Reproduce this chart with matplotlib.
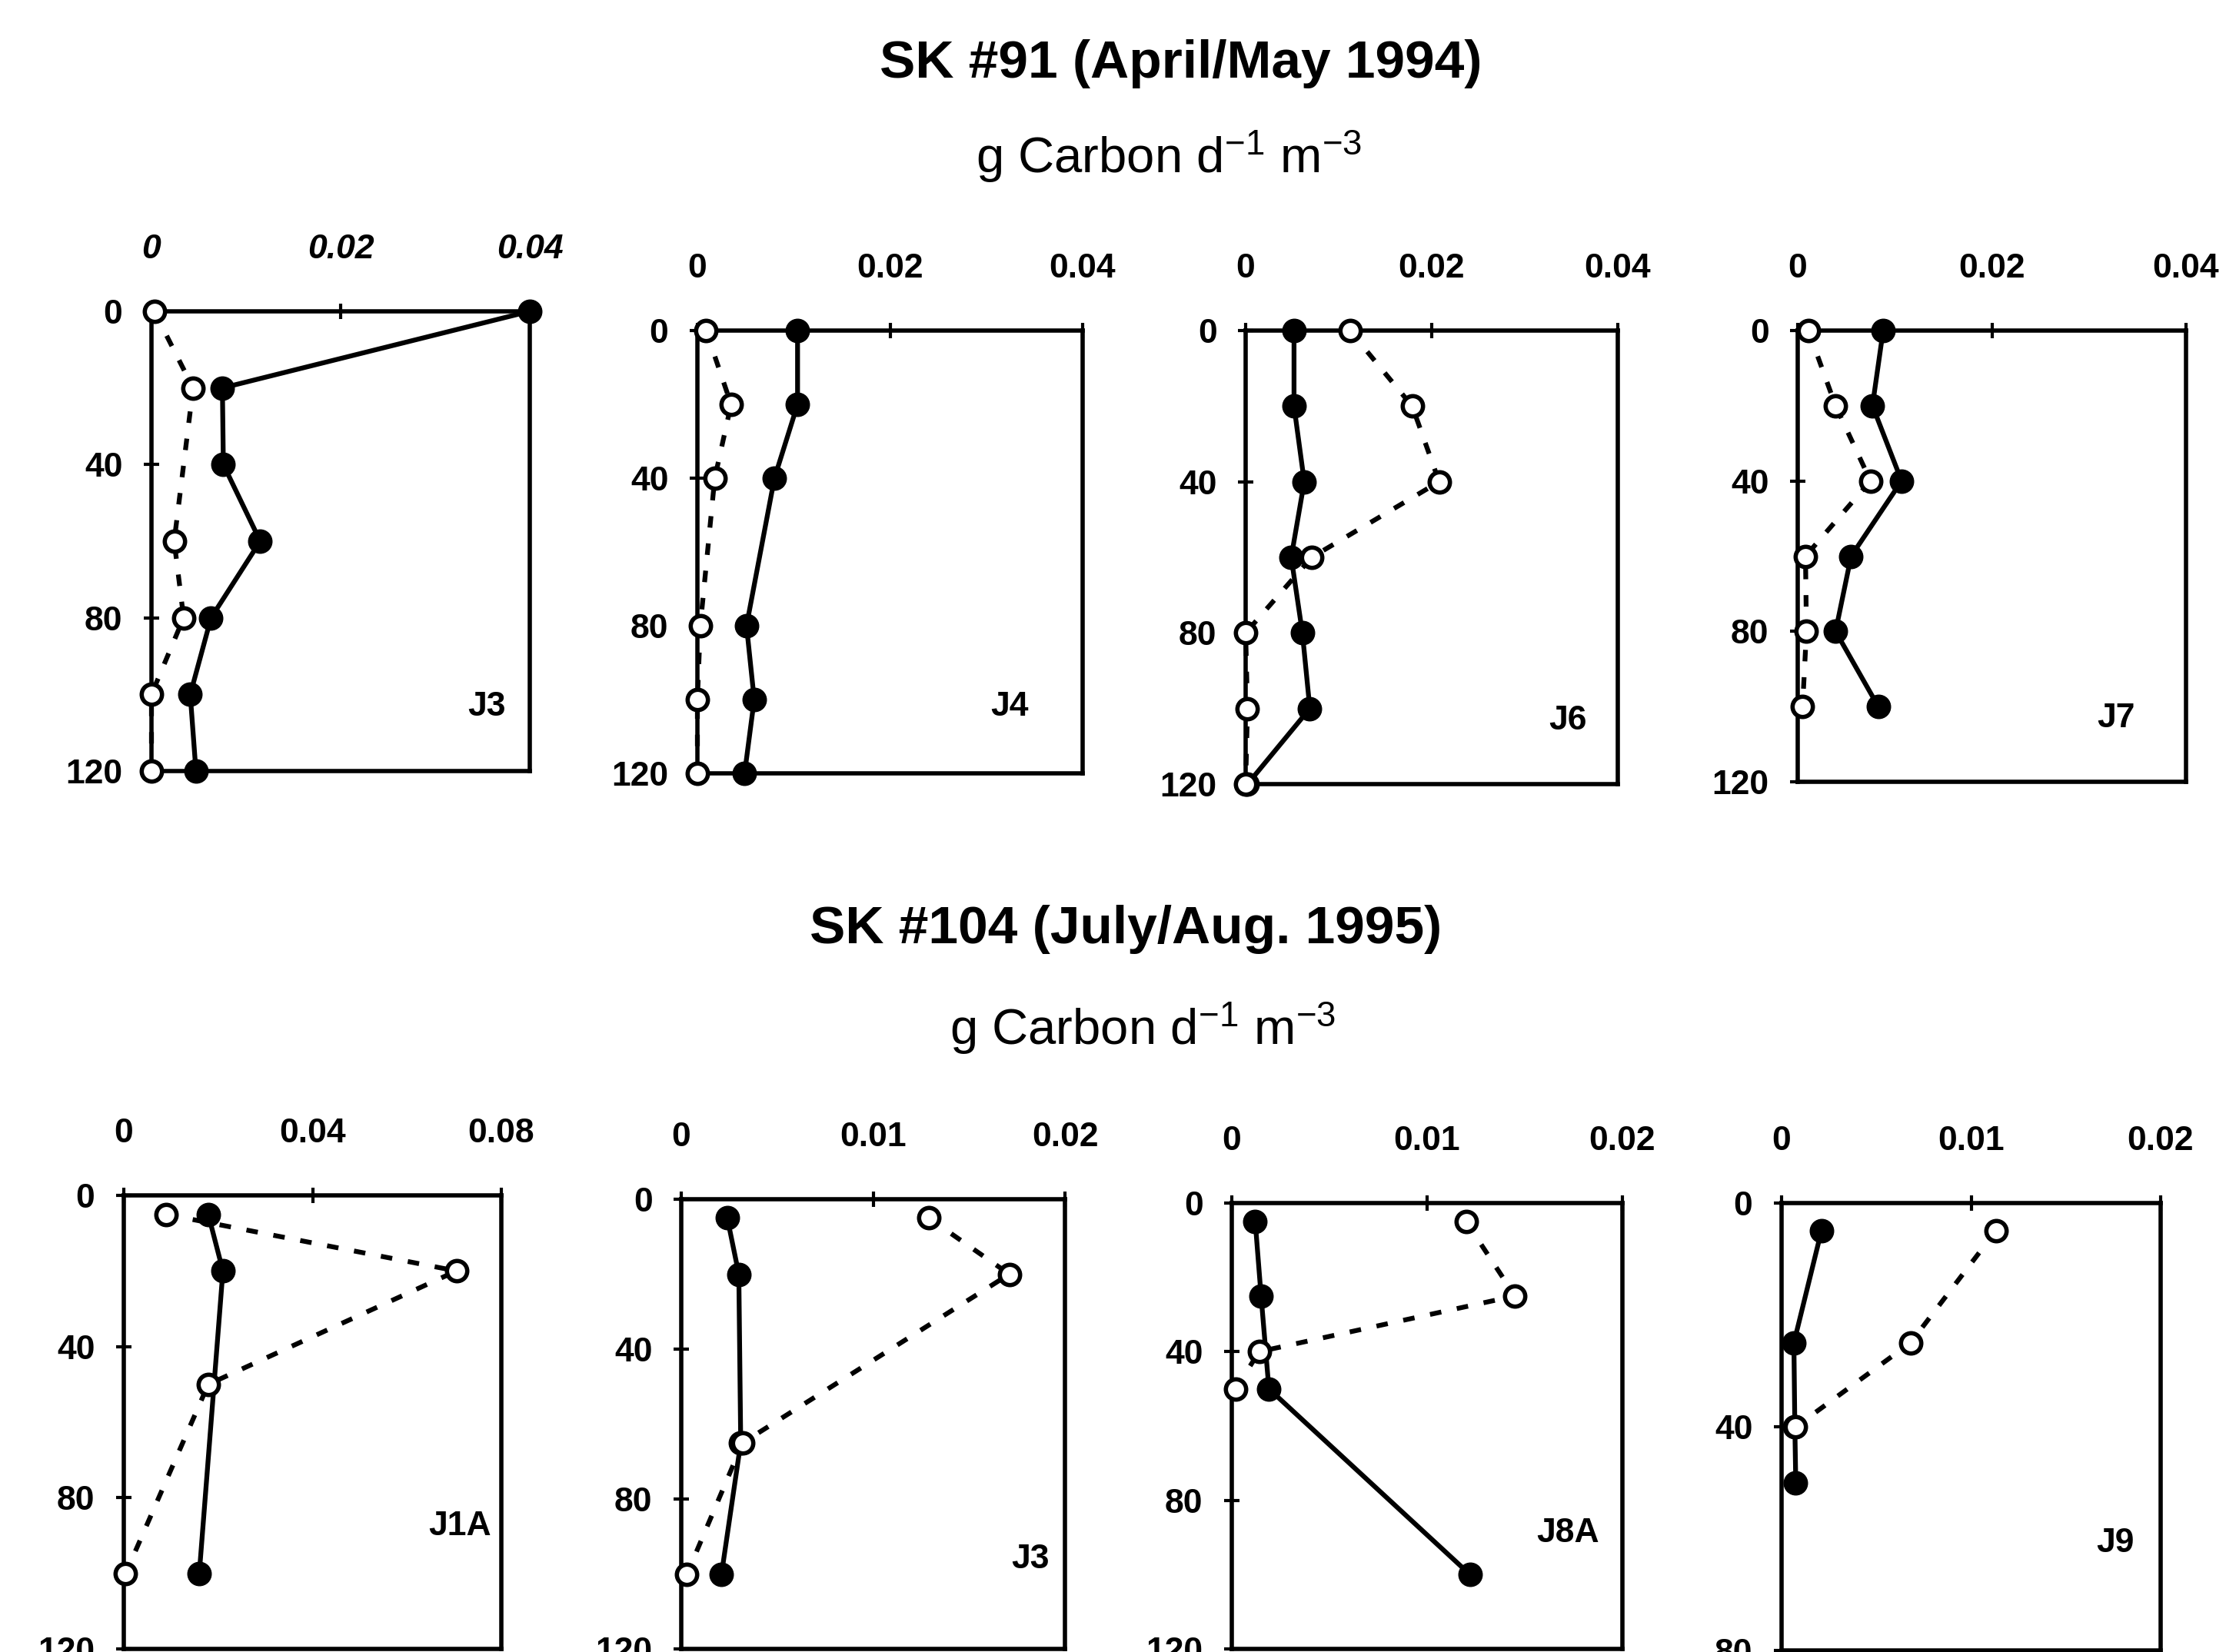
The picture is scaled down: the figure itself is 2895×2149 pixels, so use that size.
import matplotlib
matplotlib.use('Agg')
import matplotlib.pyplot as plt

plt.rcParams['font.family'] = ['Liberation Sans', 'DejaVu Sans']
plt.rcParams['mathtext.fontset'] = 'custom'
plt.rcParams['mathtext.rm'] = 'Liberation Sans'
plt.rcParams['mathtext.default'] = 'regular'

# ---- SK #91 (April/May 1994) ----
j3_91_depth = [0, 20, 40, 60, 80, 100, 120]
j3_91_filled = [0.040, 0.0075, 0.0076, 0.0115, 0.0063, 0.0041, 0.0047]
j3_91_open_depth = [0, 20, 60, 80, 100, 120]
j3_91_open = [0.0003, 0.0044, 0.0024, 0.0034, 0.0, 0.0]

j4_91_depth = [0, 20, 40, 80, 100, 120]
j4_91_filled = [0.0104, 0.0104, 0.0080, 0.0051, 0.0059, 0.0049]
j4_91_open = [0.0009, 0.0035, 0.0018, 0.0003, 0.0, 0.0]

j6_91_depth = [0, 20, 40, 60, 80, 100, 120]
j6_91_filled = [0.0052, 0.0052, 0.0063, 0.0049, 0.0061, 0.0069, 0.0002]
j6_91_open = [0.0112, 0.0179, 0.0208, 0.0071, 0.0, 0.0002, 0.0]

j7_91_depth = [0, 20, 40, 60, 80, 100]
j7_91_filled = [0.0088, 0.0077, 0.0107, 0.0055, 0.0039, 0.0083]
j7_91_open = [0.0011, 0.0039, 0.0075, 0.0008, 0.0009, 0.0005]

# ---- SK #104 (July/Aug. 1995) ----
j1a_104_filled_depth = [5, 20, 100]
j1a_104_filled = [0.0179, 0.0210, 0.0160]
j1a_104_open_depth = [5, 20, 50, 100]
j1a_104_open = [0.0089, 0.0705, 0.0179, 0.0004]

j3_104_depth = [5, 20, 65, 100]
j3_104_filled = [0.0024, 0.0030, 0.0031, 0.0021]
j3_104_open = [0.0129, 0.0171, 0.0032, 0.0003]

j8a_104_filled_depth = [5, 25, 50, 100]
j8a_104_filled = [0.0012, 0.0015, 0.0019, 0.0122]
j8a_104_open_depth = [5, 25, 40, 50]
j8a_104_open = [0.0120, 0.0145, 0.0014, 0.0002]

j9_104_filled_depth = [5, 25, 40, 50]
j9_104_filled = [0.0021, 0.00065, 0.0007, 0.00075]
j9_104_open_depth = [5, 25, 40]
j9_104_open = [0.0113, 0.0068, 0.00075]

# axis ticks
x_ticks_004 = [0, 0.02, 0.04]
x_labels_004 = ['0', '0.02', '0.04']
x_ticks_008 = [0, 0.04, 0.08]
x_labels_008 = ['0', '0.04', '0.08']
x_ticks_002 = [0, 0.01, 0.02]
x_labels_002 = ['0', '0.01', '0.02']
depth_ticks_120 = [0, 40, 80, 120]
depth_ticks_80 = [0, 40, 80]

W, H = 2895, 2149
fig = plt.figure(figsize=(W / 100, H / 100), dpi=100)


def panel(box, name, label_pos, xticks, xlabels, yticks,
          fd, fv, od, ov, italic=False):
    L, T, R, B = box
    ax = fig.add_axes([L / W, 1 - B / H, (R - L) / W, (B - T) / H])
    ax.plot(fv, fd, color='k', lw=4.5, marker='o', ms=22,
            mfc='k', mec='k', clip_on=False, zorder=3)
    ax.plot(ov, od, color='k', lw=4.5, ls=(0, (2.4, 3.3)), marker='o', ms=19,
            mfc='white', mec='k', mew=4, clip_on=False, zorder=4)
    ax.set_xlim(xticks[0], xticks[-1])
    ax.set_ylim(yticks[-1], yticks[0])
    ax.xaxis.tick_top()
    ax.set_xticks(xticks, xlabels, fontsize=32, fontweight='bold',
                  fontstyle='italic' if italic else 'normal')
    ax.set_yticks(yticks, [str(v) for v in yticks], fontsize=32,
                  fontweight='bold')
    ax.tick_params(axis='x', direction='inout', length=14, width=3, pad=36)
    ax.tick_params(axis='y', direction='inout', length=14, width=3, pad=20)
    for s in ax.spines.values():
        s.set_linewidth(4)
    ax.text(label_pos[0], label_pos[1], name, transform=ax.transAxes,
            ha='center', va='center', fontsize=32, fontweight='bold')
    return ax


# top row
panel((197, 405, 689, 1003), 'J3', (0.886, 0.14), x_ticks_004, x_labels_004,
      depth_ticks_120, j3_91_depth, j3_91_filled, j3_91_open_depth, j3_91_open,
      italic=True)
panel((907, 430, 1408, 1006), 'J4', (0.81, 0.15), x_ticks_004, x_labels_004,
      depth_ticks_120, j4_91_depth, j4_91_filled, j4_91_depth, j4_91_open)
panel((1620, 430, 2104, 1020), 'J6', (0.865, 0.14), x_ticks_004, x_labels_004,
      depth_ticks_120, j6_91_depth, j6_91_filled, j6_91_depth, j6_91_open)
panel((2338, 430, 2843, 1017), 'J7', (0.82, 0.14), x_ticks_004, x_labels_004,
      depth_ticks_120, j7_91_depth, j7_91_filled, j7_91_depth, j7_91_open)

# bottom row
panel((161, 1555, 652, 2145), 'J1A', (0.89, 0.27), x_ticks_008, x_labels_008,
      depth_ticks_120, j1a_104_filled_depth, j1a_104_filled,
      j1a_104_open_depth, j1a_104_open)
panel((886, 1560, 1385, 2145), 'J3', (0.91, 0.2), x_ticks_002, x_labels_002,
      depth_ticks_120, j3_104_depth, j3_104_filled, j3_104_depth, j3_104_open)
panel((1602, 1565, 2110, 2145), 'J8A', (0.86, 0.26), x_ticks_002, x_labels_002,
      depth_ticks_120, j8a_104_filled_depth, j8a_104_filled,
      j8a_104_open_depth, j8a_104_open)
panel((2317, 1565, 2810, 2147), 'J9', (0.88, 0.24), x_ticks_002, x_labels_002,
      depth_ticks_80, j9_104_filled_depth, j9_104_filled,
      j9_104_open_depth, j9_104_open)

# titles
fig.text(1536 / W, 1 - 83 / H, 'SK #91 (April/May 1994)', ha='center',
         va='center', fontsize=50, fontweight='bold')
fig.text(1520 / W, 1 - 203 / H, 'g Carbon d$^{-1}$ m$^{-3}$', ha='center',
         va='center', fontsize=47)
fig.text(1464 / W, 1 - 1209 / H, 'SK #104 (July/Aug. 1995)', ha='center',
         va='center', fontsize=50, fontweight='bold')
fig.text(1486 / W, 1 - 1338 / H, 'g Carbon d$^{-1}$ m$^{-3}$', ha='center',
         va='center', fontsize=47)

fig.savefig('out.png', dpi=100)
